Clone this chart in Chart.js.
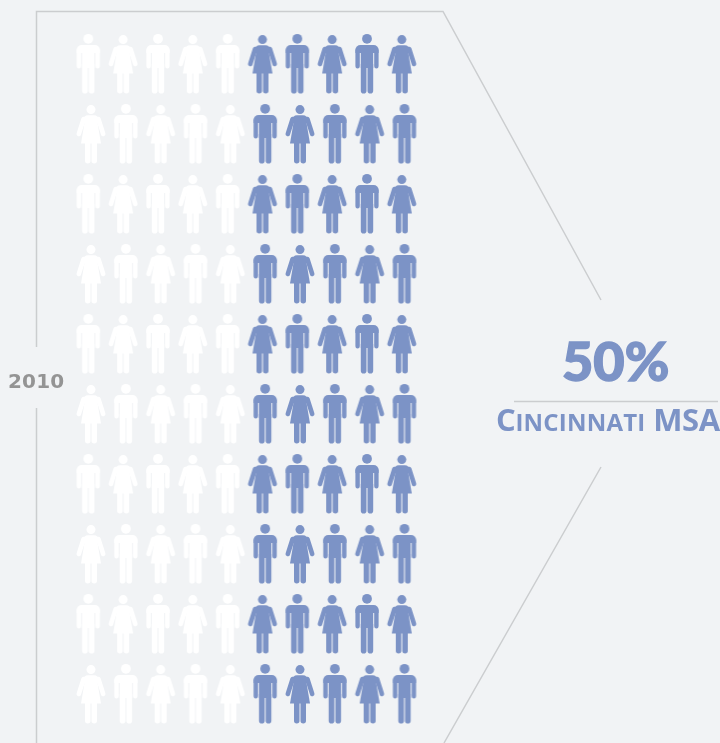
<!DOCTYPE html>
<html>
<head>
<meta charset="utf-8">
<title>Cincinnati MSA 2010</title>
<script src="https://cdn.jsdelivr.net/npm/chart.js@4"></script>
<style>
    html, body { margin: 0; padding: 0; background: #f1f3f5; }
    #wrap { position: relative; width: 720px; height: 743px; overflow: hidden; }
    #chart { position: absolute; left: 0; top: 0; }
    .label { position: absolute; white-space: nowrap; }
    #year { left: 8px; top: 369px; font: bold 20px "DejaVu Sans", sans-serif; letter-spacing: 0.2px; color: #949494; }
    #share { left: 562px; top: 328px; font: 900 54px Lato, sans-serif; color: #7c93c6; -webkit-text-stroke: 1.4px #7c93c6; }
    #place { left: 496px; top: 398px; font: bold 31px "Open Sans", sans-serif; color: #7c93c6; letter-spacing: -0.3px; }
    #place small { font-size: 24px; letter-spacing: 0.2px; }
</style>
</head>
<body>
<div id="wrap">
    <canvas id="chart" width="720" height="743"></canvas>
    <div class="label" id="year"></div>
    <div class="label" id="share"></div>
    <div class="label" id="place"><span>C</span><small>INCINNATI</small> MSA</div>
</div>
<script>
const yearLabel = '2010';
const sharePercent = 50;

const rowNumbers = [1, 2, 3, 4, 5, 6, 7, 8, 9, 10];
const columnNumbers = [1, 2, 3, 4, 5, 6, 7, 8, 9, 10];

const WHITE = '#ffffff';
const BLUE = '#7c93c6';
const RULE = '#cbcdcf';
const STAGGER = 0.077; // even rows sit a little to the right

document.getElementById('year').textContent = yearLabel;
document.getElementById('share').textContent = sharePercent + '%';

function iconCanvas(draw, color) {
    const c = document.createElement('canvas');
    c.width = 32;
    c.height = 62;
    const ctx = c.getContext('2d');
    ctx.translate(16, 1);
    ctx.fillStyle = color;
    ctx.strokeStyle = color;
    draw(ctx);
    return c;
}

function drawMan(ctx) {
    ctx.beginPath();
    ctx.arc(0, 4.8, 4.9, 0, Math.PI * 2);
    ctx.fill();
    // shoulders
    ctx.beginPath();
    ctx.roundRect(-11.6, 11, 23.2, 8, [5, 5, 0, 0]);
    ctx.fill();
    // arms
    ctx.beginPath();
    ctx.roundRect(-11.6, 14, 4.4, 20.5, 2.2);
    ctx.roundRect(7.2, 14, 4.4, 20.5, 2.2);
    ctx.fill();
    // torso
    ctx.fillRect(-6.2, 14, 12.4, 20);
    // legs
    ctx.beginPath();
    ctx.roundRect(-6.2, 30, 5.7, 29.5, [0, 0, 2.8, 2.8]);
    ctx.roundRect(0.5, 30, 5.7, 29.5, [0, 0, 2.8, 2.8]);
    ctx.fill();
}

function drawWoman(ctx) {
    ctx.beginPath();
    ctx.arc(0, 5.6, 4.5, 0, Math.PI * 2);
    ctx.fill();
    // shoulders
    ctx.beginPath();
    ctx.roundRect(-8, 11.2, 16, 8, [5, 5, 0, 0]);
    ctx.fill();
    // arms
    ctx.lineWidth = 4.6;
    ctx.lineCap = 'round';
    ctx.beginPath();
    ctx.moveTo(-7.4, 15);
    ctx.lineTo(-12.2, 30);
    ctx.moveTo(7.4, 15);
    ctx.lineTo(12.2, 30);
    ctx.stroke();
    // dress
    ctx.beginPath();
    ctx.moveTo(-6, 16);
    ctx.lineTo(-10, 39.5);
    ctx.lineTo(10, 39.5);
    ctx.lineTo(6, 16);
    ctx.closePath();
    ctx.fill();
    // legs
    ctx.beginPath();
    ctx.roundRect(-6, 38, 5.5, 21.5, [0, 0, 2.7, 2.7]);
    ctx.roundRect(0.5, 38, 5.5, 21.5, [0, 0, 2.7, 2.7]);
    ctx.fill();
}

const icons = {
    white: { man: iconCanvas(drawMan, WHITE), woman: iconCanvas(drawWoman, WHITE) },
    blue: { man: iconCanvas(drawMan, BLUE), woman: iconCanvas(drawWoman, BLUE) }
};

// one icon per percent, filled left to right
function peopleDataset(columns, iconSet) {
    const points = [];
    const styles = [];
    rowNumbers.forEach(row => {
        columns.forEach(col => {
            points.push({ x: col + (row % 2 === 0 ? STAGGER : 0), y: row });
            styles.push((row + col) % 2 === 0 ? iconSet.man : iconSet.woman);
        });
    });
    return { data: points, pointStyle: styles, pointRadius: 10, showLine: false };
}

const outlinePlugin = {
    id: 'outline',
    beforeDatasetsDraw(chart) {
        const ctx = chart.ctx;
        ctx.save();
        ctx.strokeStyle = RULE;
        ctx.lineWidth = 1.5;
        ctx.beginPath();
        ctx.moveTo(36.5, 347);
        ctx.lineTo(36.5, 11.5);
        ctx.lineTo(443, 11.5);
        ctx.lineTo(601, 300);
        ctx.moveTo(36.5, 408);
        ctx.lineTo(36.5, 743);
        ctx.moveTo(601, 467);
        ctx.lineTo(444, 743);
        ctx.moveTo(514, 401.5);
        ctx.lineTo(718, 401.5);
        ctx.stroke();
        ctx.restore();
    }
};

const shareColumns = columnNumbers.length * sharePercent / 100;

new Chart(document.getElementById('chart'), {
    type: 'scatter',
    data: {
        datasets: [
            peopleDataset(columnNumbers.slice(0, shareColumns), icons.white),
            peopleDataset(columnNumbers.slice(shareColumns), icons.blue)
        ]
    },
    options: {
        responsive: false,
        animation: false,
        layout: { padding: 0, autoPadding: false },
        plugins: { legend: { display: false }, tooltip: { enabled: false } },
        scales: {
            x: { type: 'linear', display: false, min: -1.535, max: 19.135 },
            y: { type: 'linear', display: false, reverse: true, min: 0.086, max: 10.7 }
        }
    },
    plugins: [outlinePlugin]
});
</script>
</body>
</html>
